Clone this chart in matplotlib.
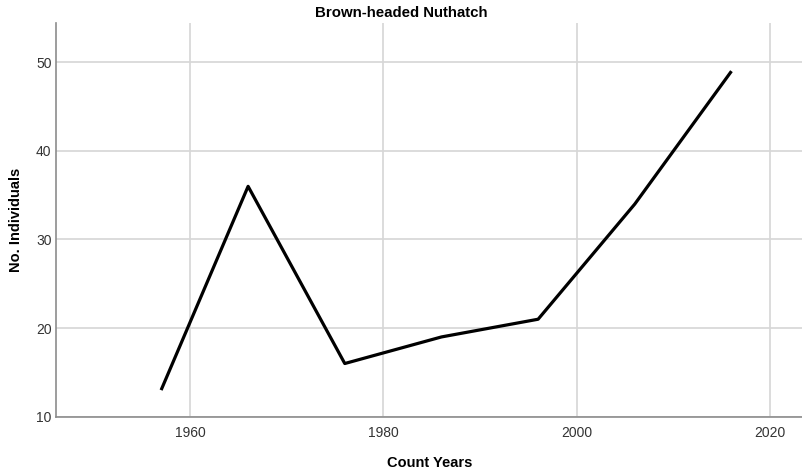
import matplotlib
matplotlib.use("Agg")
import matplotlib.pyplot as plt

# data
years = [1957, 1966, 1976, 1986, 1996, 2006, 2016]
counts = [13, 36, 16, 19, 21, 34, 49]
xticks = [1960, 1980, 2000, 2020]
yticks = [10, 20, 30, 40, 50]

plt.rcParams['font.family'] = ['Liberation Sans Narrow', 'Liberation Sans', 'DejaVu Sans']

fig = plt.figure(figsize=(8.03, 4.72), dpi=100)
ax = fig.add_axes([0.0694, 0.1172, 0.9306, 0.8334])

ax.plot(years, counts, color="black", linewidth=2.3, solid_capstyle="butt", zorder=3)

ax.set_xlim(1946.1, 2023.4)
ax.set_ylim(10, 54.4)
ax.set_xticks(xticks)
ax.set_yticks(yticks)
ax.grid(True, color="#d6d6d6", linewidth=1.2)
ax.set_axisbelow(True)

for side in ["top", "right"]:
    ax.spines[side].set_visible(False)
for side in ["left", "bottom"]:
    ax.spines[side].set_color("#8c8c8c")
    ax.spines[side].set_linewidth(1.2)

ax.tick_params(length=0, labelsize=10, colors="#333333")
ax.tick_params(axis="x", pad=7)
ax.tick_params(axis="y", pad=3)

fig.text(0.5, 0.973, "Brown-headed Nuthatch", ha="center", va="center",
         fontsize=10.8, fontweight="bold", family=['Liberation Sans', 'DejaVu Sans'])
ax.set_xlabel("Count Years", fontsize=10.5, fontweight="bold", labelpad=11)
ax.set_ylabel("No. Individuals", fontsize=10.5, fontweight="bold", labelpad=9)

fig.savefig("out.png", dpi=100)
